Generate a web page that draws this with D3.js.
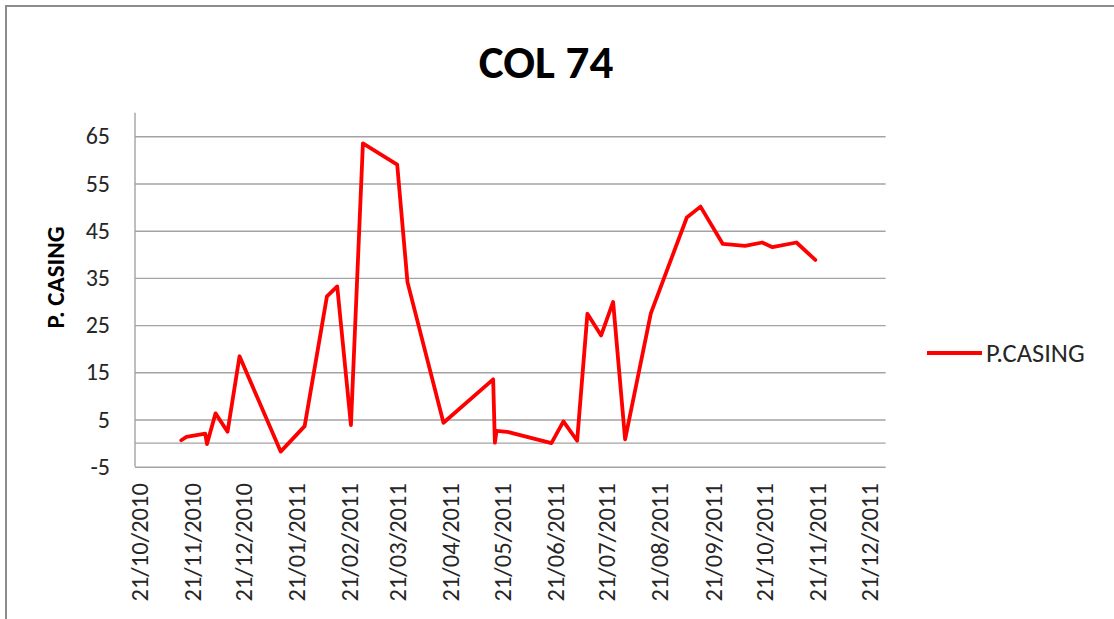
<!DOCTYPE html>
<html>
<head>
<meta charset="utf-8">
<script src="https://cdn.jsdelivr.net/npm/d3@7"></script>
<style>
  html, body { margin: 0; padding: 0; background: #fff; }
  svg { display: block; }
  .lbl { font-family: Carlito, Lato, "Open Sans", sans-serif; fill: #262626; }
</style>
</head>
<body>
<svg id="chart" width="1114" height="619"></svg>
<script>
// Casing pressure readings for well COL 74
const readingDates = [
  "2010-11-15", "2010-11-18", "2010-11-29", "2010-11-30", "2010-12-05",
  "2010-12-12", "2010-12-19", "2011-01-12", "2011-01-26", "2011-02-08",
  "2011-02-14", "2011-02-22", "2011-03-01", "2011-03-21", "2011-03-27",
  "2011-04-17", "2011-05-16", "2011-05-17", "2011-05-18", "2011-05-24",
  "2011-06-19", "2011-06-26", "2011-07-04", "2011-07-10", "2011-07-18",
  "2011-07-25", "2011-08-01", "2011-08-16", "2011-09-06", "2011-09-14",
  "2011-09-27", "2011-10-10", "2011-10-20", "2011-10-26", "2011-11-09",
  "2011-11-20"
];
const pCasing = [
  0.6, 1.3, 2.0, -0.2, 6.3,
  2.4, 18.4, -1.8, 3.6, 31.1,
  33.2, 3.8, 63.5, 59.0, 34.1,
  4.3, 13.5, 0.1, 2.6, 2.4,
  0.0, 4.6, 0.5, 27.4, 22.8,
  29.9, 0.8, 27.5, 47.8, 50.1,
  42.2, 41.8, 42.5, 41.5, 42.5,
  38.8
];
const yTicks = [-5, 5, 15, 25, 35, 45, 55, 65];
const xTickLabels = [
  "21/10/2010", "21/11/2010", "21/12/2010", "21/01/2011", "21/02/2011",
  "21/03/2011", "21/04/2011", "21/05/2011", "21/06/2011", "21/07/2011",
  "21/08/2011", "21/09/2011", "21/10/2011", "21/11/2011", "21/12/2011"
];
const xDomain = ["2010-10-19", "2011-12-31"];
const yDomain = [-5, 70];
const chartTitle = "COL 74";
const seriesName = "P.CASING";
const yTitle = "P. CASING";

const parseISO = d3.timeParse("%Y-%m-%d");
const parseLabel = d3.timeParse("%d/%m/%Y");
const fmtLabel = d3.timeFormat("%d/%m/%Y");

const svg = d3.select("#chart");
const plot = { left: 135, right: 885.6, top: 112.7, bottom: 466.7 };

const x = d3.scaleTime().domain(xDomain.map(parseISO)).range([plot.left, plot.right]);
const y = d3.scaleLinear().domain(yDomain).range([plot.bottom, plot.top]);

// outer chart frame
svg.append("rect")
  .attr("x", 6).attr("y", 6).attr("width", 1300).attr("height", 800)
  .attr("fill", "#fff").attr("stroke", "#8c8c8c").attr("stroke-width", 2);

// title
svg.append("text")
  .attr("class", "lbl")
  .attr("x", 546).attr("y", 78)
  .attr("text-anchor", "middle")
  .style("font-size", "47px").style("font-weight", "bold").style("fill", "#000")
  .text(chartTitle);

// horizontal gridlines + value labels (plain hyphen for negatives)
const yAxis = svg.append("g")
  .attr("transform", `translate(${plot.left},0)`)
  .call(d3.axisLeft(y).tickValues(yTicks).tickFormat(d => String(d))
    .tickSize(-(plot.right - plot.left)).tickPadding(25));
yAxis.select(".domain").remove();
yAxis.selectAll(".tick line").attr("stroke", "#a3a3a3").attr("stroke-width", 1.4);
yAxis.selectAll(".tick text")
  .attr("class", "lbl")
  .style("font-size", "24px");

// category axis line at zero
svg.append("line")
  .attr("x1", plot.left).attr("x2", plot.right)
  .attr("y1", y(0)).attr("y2", y(0))
  .attr("stroke", "#a3a3a3").attr("stroke-width", 1.4);

// vertical value axis line
svg.append("line")
  .attr("x1", plot.left).attr("x2", plot.left)
  .attr("y1", plot.top).attr("y2", plot.bottom)
  .attr("stroke", "#a3a3a3").attr("stroke-width", 1.4);

// date labels
const xAxis = svg.append("g")
  .attr("transform", `translate(0,${plot.bottom})`)
  .call(d3.axisBottom(x).tickValues(xTickLabels.map(parseLabel)).tickFormat(fmtLabel).tickSize(0));
xAxis.select(".domain").remove();
xAxis.selectAll(".tick text")
  .attr("class", "lbl")
  .style("font-size", "24.5px")
  .attr("transform", "rotate(-90)")
  .attr("x", -16.5).attr("y", 0).attr("dy", "0.35em")
  .style("text-anchor", "end");

// y-axis title
svg.append("text")
  .attr("class", "lbl")
  .attr("transform", "translate(55.5,277.5) rotate(-90)")
  .attr("text-anchor", "middle").attr("dy", "0.35em")
  .style("font-size", "25px").style("font-weight", "bold").style("fill", "#000")
  .text(yTitle);

// series line
const data = readingDates.map((d, i) => ({ date: parseISO(d), value: pCasing[i] }));
const line = d3.line().x(d => x(d.date)).y(d => y(d.value));
svg.append("path")
  .datum(data)
  .attr("d", line)
  .attr("fill", "none")
  .attr("stroke", "#ff0000")
  .attr("stroke-width", 3.8)
  .attr("stroke-linejoin", "round")
  .attr("stroke-linecap", "round");

// legend
const legend = svg.append("g").attr("transform", "translate(927,353)");
legend.append("line")
  .attr("x1", 0).attr("x2", 55).attr("y1", 0).attr("y2", 0)
  .attr("stroke", "#ff0000").attr("stroke-width", 3.8);
legend.append("text")
  .attr("class", "lbl")
  .attr("x", 59).attr("y", 0).attr("dy", "0.35em")
  .style("font-size", "26.5px")
  .text(seriesName);
</script>
</body>
</html>
